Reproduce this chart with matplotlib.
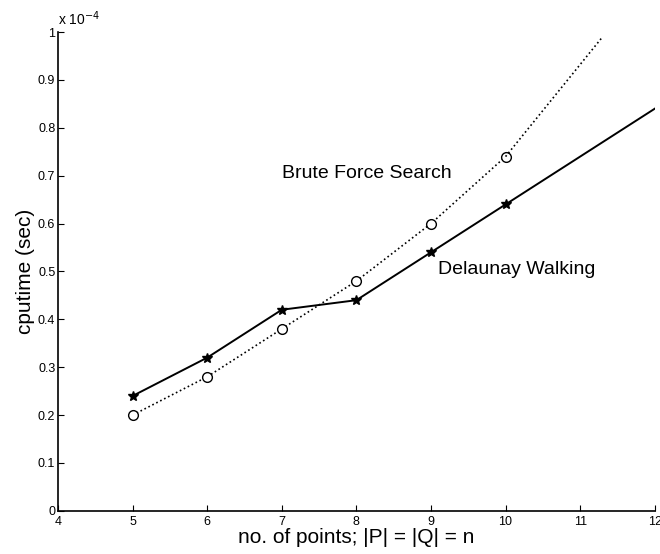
import matplotlib
matplotlib.use("Agg")
import matplotlib.pyplot as plt

plt.rcParams['font.family'] = ['Liberation Sans', 'DejaVu Sans']

# cputime in units of 1e-4 s
n_points = [5, 6, 7, 8, 9, 10]
delaunay = [0.24, 0.32, 0.42, 0.44, 0.54, 0.64]
brute = [0.20, 0.28, 0.38, 0.48, 0.60, 0.74]
# trend continuation beyond the measured range
delaunay_ext_x = [10, 12]
delaunay_ext_y = [0.64, 0.84]
brute_ext_x = [10, 11.3]
brute_ext_y = [0.74, 0.99]

x_ticks = [4, 5, 6, 7, 8, 9, 10, 11, 12]
y_ticks = [0, 0.1, 0.2, 0.3, 0.4, 0.5, 0.6, 0.7, 0.8, 0.9, 1]
y_tick_labels = ['0', '0.1', '0.2', '0.3', '0.4', '0.5', '0.6', '0.7', '0.8', '0.9', '1']

fig = plt.figure(figsize=(6.6, 5.54), dpi=100)
ax = fig.add_axes([0.088, 0.078, 0.904, 0.864])

ax.plot(n_points, brute, linestyle=':', color='black', linewidth=1.2,
        marker='o', markersize=7, markerfacecolor='white', markeredgecolor='black',
        markeredgewidth=1.0)
ax.plot(brute_ext_x, brute_ext_y, linestyle=':', color='black', linewidth=1.2)
ax.plot(n_points, delaunay, linestyle='-', color='black', linewidth=1.4,
        marker='*', markersize=7, markerfacecolor='black', markeredgecolor='black')
ax.plot(delaunay_ext_x, delaunay_ext_y, linestyle='-', color='black', linewidth=1.4)

ax.text(8.14, 0.705, 'Brute Force Search', fontsize=14, ha='center', va='center')
ax.text(10.15, 0.505, 'Delaunay Walking', fontsize=14, ha='center', va='center')

ax.set_xlim(4, 12)
ax.set_ylim(0, 1)
ax.set_xticks(x_ticks)
ax.set_yticks(y_ticks)
ax.set_yticklabels(y_tick_labels)
ax.tick_params(direction='in', length=4, labelsize=9, width=0.8)
ax.tick_params(axis='x', pad=4)
ax.tick_params(axis='y', pad=2)
ax.spines['top'].set_visible(False)
ax.spines['right'].set_visible(False)
ax.spines['left'].set_linewidth(1.2)
ax.spines['bottom'].set_linewidth(1.2)

ax.set_xlabel('no. of points; |P| = |Q| = n', fontsize=15, labelpad=0)
ax.set_ylabel('cputime (sec)', fontsize=15, labelpad=2)
ax.text(0.0, 1.008, r'x 10$^{-4}$', transform=ax.transAxes, fontsize=10,
        ha='left', va='bottom')

fig.savefig('out.png', dpi=100)
